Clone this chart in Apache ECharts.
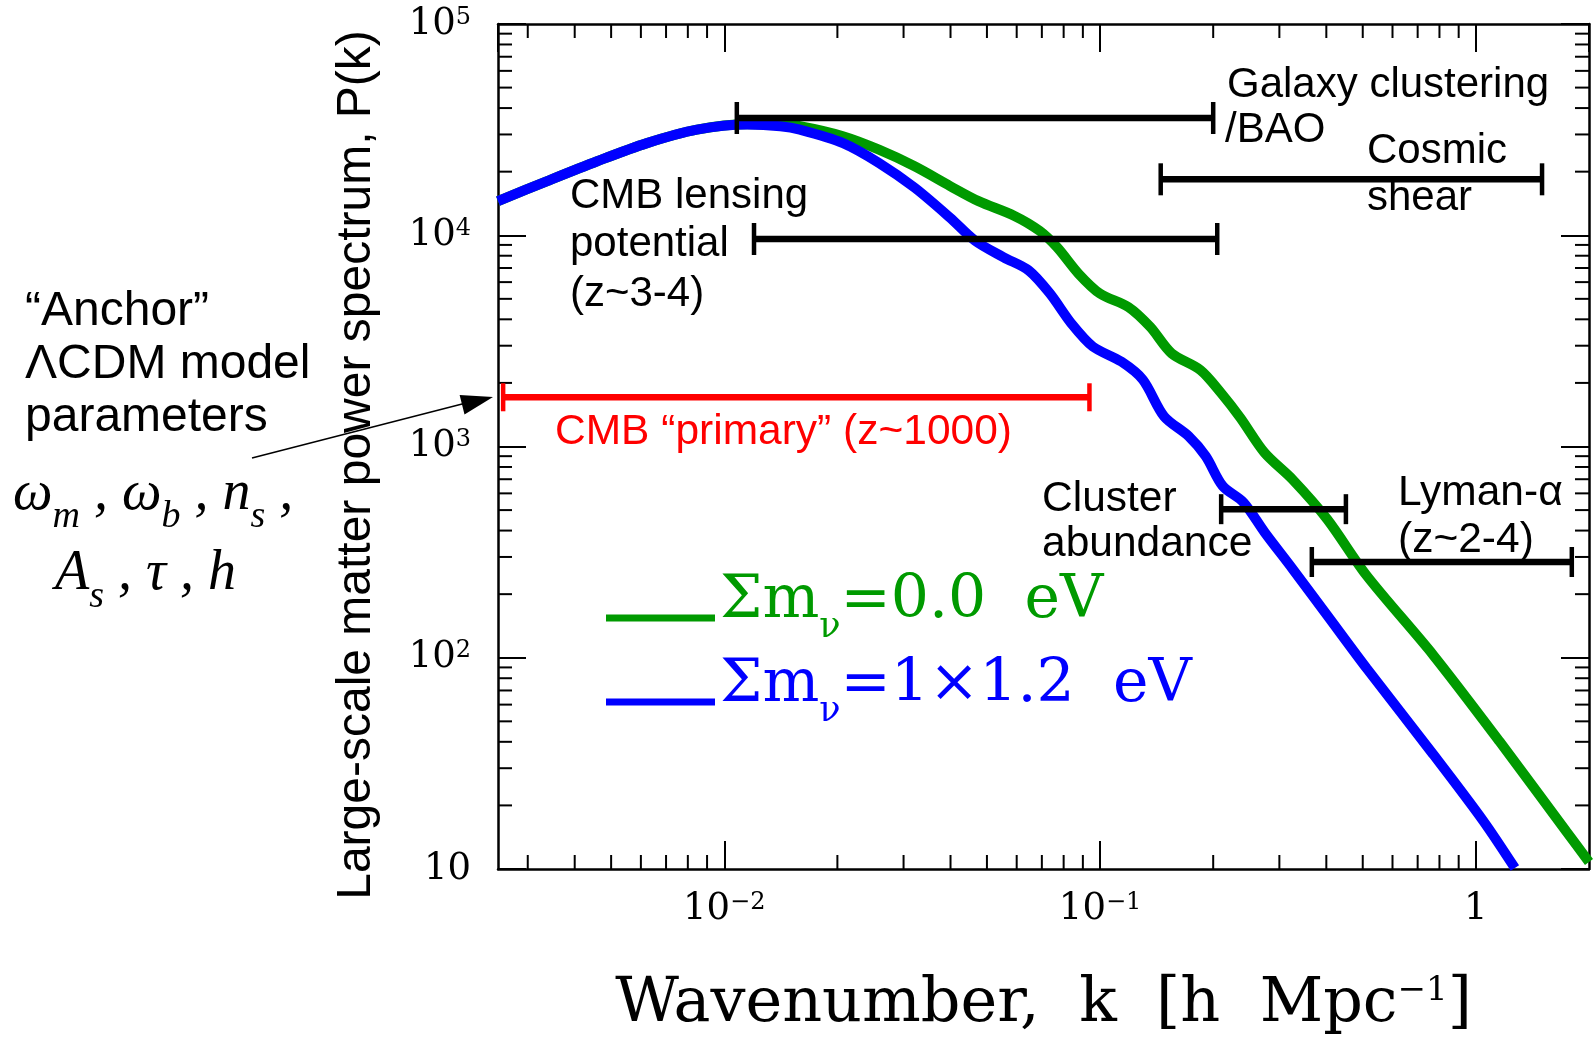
<!DOCTYPE html>
<html><head><meta charset="utf-8">
<script src="https://cdn.jsdelivr.net/npm/echarts@6/dist/echarts.min.js"></script>
<style>html,body{margin:0;padding:0;background:#fff;}#c{width:1593px;height:1041px;}</style>
</head><body><div id="c"></div>
<script>
// ---------- data ----------
const seriesNames = ['Σmν=0.0 eV', 'Σmν=1×1.2 eV'];
const legendLabels = ['{a|Σm}{b|ν}{a|=0.0  eV}', '{a|Σm}{b|ν}{a|=1×1.2  eV}'];

const kMassless = [0.0025, 0.00338, 0.00459, 0.00623, 0.00846, 0.0115, 0.0141, 0.0159, 0.0207, 0.0258, 0.0321, 0.0399, 0.0475, 0.0592, 0.0690, 0.0769, 0.0877, 0.100, 0.119, 0.136, 0.155, 0.185, 0.210, 0.236, 0.274, 0.325, 0.402, 0.512, 0.770, 1.158, 1.743, 2.0];
const pMassless = [14500, 18050, 22400, 27300, 31600, 33500, 33400, 32800, 29400, 25400, 21200, 17100, 14500, 12350, 10500, 8760, 6570, 5290, 4570, 3680, 2760, 2300, 1790, 1370, 934, 699, 453, 245, 103, 40, 15, 10.8];

const kMassive = [0.0025, 0.00338, 0.00459, 0.00623, 0.00846, 0.0115, 0.0141, 0.0159, 0.0207, 0.0258, 0.0321, 0.0399, 0.0465, 0.0554, 0.0646, 0.0736, 0.0839, 0.0957, 0.114, 0.130, 0.148, 0.172, 0.191, 0.212, 0.241, 0.274, 0.325, 0.402, 0.512, 0.770, 1.046, 1.27];
const pMassive = [14500, 18050, 22400, 27300, 31600, 33400, 32800, 31600, 27300, 22000, 16800, 12100, 9420, 7860, 6810, 5290, 3820, 2970, 2520, 2070, 1390, 1120, 900, 650, 543, 393, 264, 159, 89.2, 34.9, 16.9, 10.1];

const rangeNames = ['Galaxy clustering /BAO', 'Cosmic shear', 'CMB lensing potential', 'CMB primary', 'Cluster abundance', 'Lyman-alpha'];
const rangeKmin = [0.0108, 0.145, 0.012, 0.00258, 0.21, 0.366];
const rangeKmax = [0.2, 1.5, 0.205, 0.0937, 0.451, 1.80];
const rangeP = [35900, 18400, 9600, 1710, 505, 284];

const xMin = 0.0025, xMax = 2.0, yMin = 10, yMax = 100000;
const xTickExp = [-2, -1, 0];
const xTickLabels = ['10{sup|−2}', '10{sup|−1}', '1'];
const yTickExp = [1, 2, 3, 4, 5];
const yTickLabels = ['10', '10{sup|2}', '10{sup|3}', '10{sup|4}', '10{sup|5}'];
const xMinorTicks = [0.003, 0.004, 0.005, 0.006, 0.007, 0.008, 0.009, 0.02, 0.03, 0.04, 0.05, 0.06, 0.07, 0.08, 0.09, 0.2, 0.3, 0.4, 0.5, 0.6, 0.7, 0.8, 0.9];
const yMinorTicks = [20, 30, 40, 50, 60, 70, 80, 90, 200, 300, 400, 500, 600, 700, 800, 900, 2000, 3000, 4000, 5000, 6000, 7000, 8000, 9000, 20000, 30000, 40000, 50000, 60000, 70000, 80000, 90000];

// ---------- styles ----------
const GREEN = '#009a00', BLUE = '#0000ff', RED = '#ff0000';
const rangeStyles = [
  {color: '#000', cap: 32}, {color: '#000', cap: 32}, {color: '#000', cap: 32},
  {color: RED, cap: 28}, {color: '#000', cap: 30}, {color: '#000', cap: 30}
];
const SANS = '"Liberation Sans", Arial, sans-serif';
const SERIF = '"DejaVu Serif", serif';
const MATH = '"Liberation Serif", "Times New Roman", serif';

const chart = echarts.init(document.getElementById('c'), null, {renderer: 'canvas', width: 1593, height: 1041});

function tickFmt(exps, labels) {
  return function (v) {
    const e = Math.round(Math.log10(v));
    const i = exps.indexOf(e);
    return (i >= 0 && Math.abs(Math.log10(v) - e) < 1e-6) ? labels[i] : '';
  };
}
const axisLineStyle = {color: '#000', width: 2.5};
const majorTick = {show: true, inside: true, length: 28, lineStyle: {color: '#000', width: 2}};
const labelRich = {sup: {fontFamily: SERIF, fontSize: 24, verticalAlign: 'top', color: '#000'}};

function minorTickSeries(values, horizontal) {
  return {
    type: 'custom', silent: true, z: 3, animation: false,
    data: values.map(v => horizontal ? [v, yMin] : [xMin, v]),
    encode: {x: 0, y: 1},
    renderItem: function (params, api) {
      const cs = params.coordSys;
      const p = api.coord([api.value(0), api.value(1)]);
      const st = {stroke: '#000', lineWidth: 2};
      if (horizontal) {
        const yb = cs.y + cs.height, yt = cs.y;
        return {type: 'group', children: [
          {type: 'line', shape: {x1: p[0], y1: yb, x2: p[0], y2: yb - 14}, style: st},
          {type: 'line', shape: {x1: p[0], y1: yt, x2: p[0], y2: yt + 14}, style: st}
        ]};
      }
      const xl = cs.x, xr = cs.x + cs.width;
      return {type: 'group', children: [
        {type: 'line', shape: {x1: xl, y1: p[1], x2: xl + 14, y2: p[1]}, style: st},
        {type: 'line', shape: {x1: xr, y1: p[1], x2: xr - 14, y2: p[1]}, style: st}
      ]};
    }
  };
}

function legendCfg(i, top, color) {
  return {
    data: [seriesNames[i]], left: 606, top: top, orient: 'vertical', padding: 0,
    icon: 'rect', itemWidth: 109, itemHeight: 7, selectedMode: false,
    formatter: name => legendLabels[seriesNames.indexOf(name)],
    textStyle: {
      padding: [0, 0, 20, 0],
      rich: {
        a: {fontFamily: SERIF, fontSize: 60, color: color, padding: [0, 0, 14, 0], verticalAlign: 'bottom'},
        b: {fontFamily: SERIF, fontSize: 35, color: color, verticalAlign: 'bottom'}
      }
    }
  };
}

function txt(s, x, y, color, size) {
  return {type: 'text', x: x, y: y, silent: true, z: 20,
    style: {text: s, font: (size || 42) + 'px ' + SANS, fill: color || '#000', align: 'left', verticalAlign: 'middle', textAlign: 'left', textVerticalAlign: 'middle'}};
}
const mathRich = {
  it: {fontFamily: MATH, fontStyle: 'italic', fontSize: 56, color: '#000', padding: [0, 0, 14, 0], verticalAlign: 'bottom'},
  sb: {fontFamily: MATH, fontStyle: 'italic', fontSize: 38, color: '#000', verticalAlign: 'bottom'}
};

const option = {
  animation: false,
  backgroundColor: '#fff',
  grid: {left: 498, top: 24, width: 1091, height: 849, containLabel: false},
  xAxis: [
    {type: 'log', min: xMin, max: xMax, position: 'bottom',
      axisLine: {onZero: false, lineStyle: axisLineStyle}, axisTick: majorTick,
      splitLine: {show: false}, minorTick: {show: false},
      axisLabel: {show: true, showMinLabel: false, showMaxLabel: false, margin: 22, color: '#000', fontFamily: SERIF, fontSize: 37, formatter: tickFmt(xTickExp, xTickLabels), rich: labelRich},
      name: 'Wavenumber,  k  [h  Mpc{sup|−1}]', nameLocation: 'middle', nameGap: 105,
      nameTextStyle: {fontFamily: SERIF, fontSize: 62, color: '#000', rich: {sup: {fontFamily: SERIF, fontSize: 34, verticalAlign: 'top', color: '#000'}}}
    },
    {type: 'log', min: xMin, max: xMax, position: 'top',
      axisLine: {onZero: false, lineStyle: axisLineStyle}, axisTick: majorTick,
      splitLine: {show: false}, axisLabel: {show: false}}
  ],
  yAxis: [
    {type: 'log', min: yMin, max: yMax, position: 'left',
      axisLine: {onZero: false, lineStyle: axisLineStyle}, axisTick: majorTick,
      splitLine: {show: false},
      axisLabel: {show: true, showMinLabel: true, showMaxLabel: true, margin: 27, color: '#000', fontFamily: SERIF, fontSize: 37, formatter: tickFmt(yTickExp, yTickLabels), rich: labelRich},
      name: 'Large-scale matter power spectrum, P(k)', nameLocation: 'middle', nameGap: 117, nameRotate: 90,
      nameTextStyle: {fontFamily: SANS, fontSize: 48, color: '#000', padding: [0, 37, 0, 0]}
    },
    {type: 'log', min: yMin, max: yMax, position: 'right',
      axisLine: {onZero: false, lineStyle: axisLineStyle}, axisTick: majorTick,
      splitLine: {show: false}, axisLabel: {show: false}}
  ],
  legend: [legendCfg(0, 571, GREEN), legendCfg(1, 655, BLUE)],
  series: [
    minorTickSeries(xMinorTicks, true),
    minorTickSeries(yMinorTicks, false),
    {name: seriesNames[0], type: 'line', z: 4, color: GREEN, showSymbol: false, smooth: 0.3,
      lineStyle: {color: GREEN, width: 10}, data: kMassless.map((k, i) => [k, pMassless[i]])},
    {name: seriesNames[1], type: 'line', z: 5, color: BLUE, showSymbol: false, smooth: 0.3,
      lineStyle: {color: BLUE, width: 10}, data: kMassive.map((k, i) => [k, pMassive[i]])},
    {name: 'ranges', type: 'custom', z: 10, silent: true, animation: false,
      data: rangeNames.map((n, i) => ({name: n, value: [rangeKmin[i], rangeKmax[i], rangeP[i]]})),
      encode: {x: [0, 1], y: 2},
      renderItem: function (params, api) {
        const a = api.coord([api.value(0), api.value(2)]);
        const b = api.coord([api.value(1), api.value(2)]);
        const st = rangeStyles[params.dataIndex];
        const h = st.cap / 2;
        return {type: 'group', children: [
          {type: 'line', shape: {x1: a[0], y1: a[1], x2: b[0], y2: b[1]}, style: {stroke: st.color, lineWidth: 6.5}},
          {type: 'line', shape: {x1: a[0], y1: a[1] - h, x2: a[0], y2: a[1] + h}, style: {stroke: st.color, lineWidth: 4.5}},
          {type: 'line', shape: {x1: b[0], y1: b[1] - h, x2: b[0], y2: b[1] + h}, style: {stroke: st.color, lineWidth: 4.5}}
        ]};
      }
    }
  ],
  graphic: [
    txt('Galaxy clustering', 1227, 85),
    txt('/BAO', 1225, 130),
    txt('Cosmic', 1367, 151),
    txt('shear', 1367, 198),
    txt('CMB lensing', 570, 196),
    txt('potential', 570, 244),
    txt('(z~3-4)', 570, 294),
    txt('“Anchor”', 25, 312, '#000', 48),
    txt('ΛCDM model', 25, 365, '#000', 48),
    txt('parameters', 25, 418, '#000', 48),
    txt('CMB “primary” (z~1000)', 555, 432, RED, 42.5),
    txt('Cluster', 1042, 499, '#000', 42.5),
    txt('abundance', 1042, 544, '#000', 42.5),
    txt('Lyman-α', 1398, 493, '#000', 42.5),
    txt('(z~2-4)', 1398, 540, '#000', 42.5),
    {type: 'text', x: 13, y: 466, silent: true, z: 20, style: {text: '{it|ω}{sb|m}{it| , ω}{sb|b}{it| , n}{sb|s}{it| ,}', rich: mathRich, align: 'left', verticalAlign: 'top'}},
    {type: 'text', x: 55, y: 546, silent: true, z: 20, style: {text: '{it|A}{sb|s}{it| , τ , h}', rich: mathRich, align: 'left', verticalAlign: 'top'}},
    {type: 'line', silent: true, z: 20, shape: {x1: 252, y1: 458, x2: 466, y2: 403}, style: {stroke: '#000', lineWidth: 1.5}},
    {type: 'polygon', silent: true, z: 20, shape: {points: [[493, 397], [459.6, 395.1], [464.5, 414.5]]}, style: {fill: '#000'}}
  ]
};
chart.setOption(option);
</script></body></html>
